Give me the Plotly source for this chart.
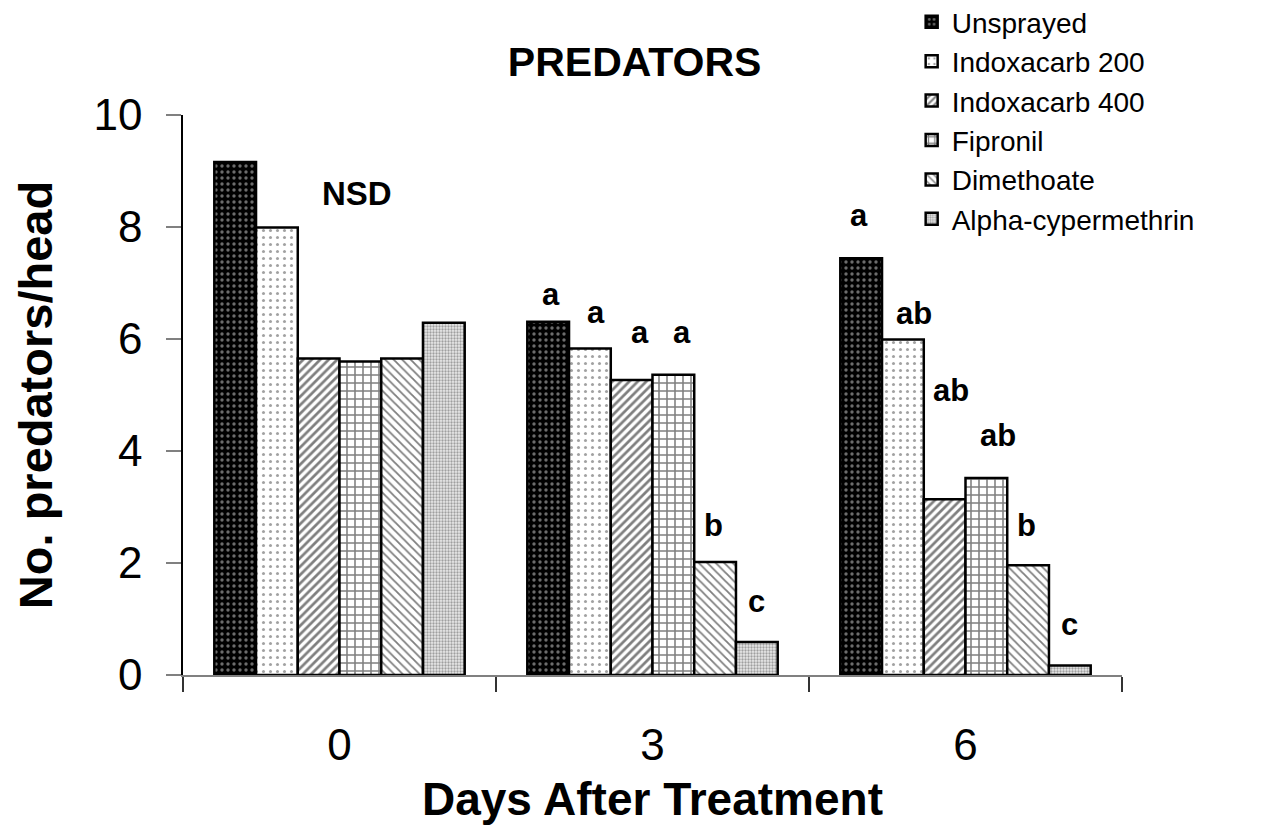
import plotly.graph_objects as go

# ---------------- data ----------------
days = ["0", "3", "6"]
treatments = ["Unsprayed", "Indoxacarb 200", "Indoxacarb 400",
              "Fipronil", "Dimethoate", "Alpha-cypermethrin"]
unsprayed = [9.16, 6.31, 7.44]
indoxacarb_200 = [7.99, 5.83, 5.99]
indoxacarb_400 = [5.65, 5.27, 3.14]
fipronil = [5.60, 5.36, 3.52]
dimethoate = [5.65, 2.02, 1.96]
alpha_cypermethrin = [6.29, 0.59, 0.17]
series = [unsprayed, indoxacarb_200, indoxacarb_400, fipronil, dimethoate, alpha_cypermethrin]

letters_day3 = ["a", "a", "a", "a", "b", "c"]
letters_day6 = ["a", "ab", "ab", "ab", "b", "c"]
nsd_label = "NSD"

# ---------------- styles ----------------
FONT = "Liberation Sans, Arial, sans-serif"
patterns = [
    dict(shape=".", bgcolor="#000000", fgcolor="#d8d8d8", size=6, solidity=0.25),
    dict(shape=".", bgcolor="#ffffff", fgcolor="#444444", size=7, solidity=0.15),
    dict(shape="/", bgcolor="#ffffff", fgcolor="#000000", size=6, solidity=0.45),
    dict(shape="+", bgcolor="#ffffff", fgcolor="#000000", size=8, solidity=0.35),
    dict(shape="\\", bgcolor="#ffffff", fgcolor="#000000", size=6, solidity=0.3),
    dict(shape=".", bgcolor="#e8e8e8", fgcolor="#555555", size=3, solidity=0.45),
]

fig = go.Figure()
for name, vals, pat in zip(treatments, series, patterns):
    fig.add_trace(go.Bar(
        x=days, y=vals, name=name,
        marker=dict(color=pat["bgcolor"], pattern=dict(fillmode="overlay", **pat),
                    line=dict(color="#000000", width=2.5)),
    ))

# label placement (pixel offsets above bar tops)
gap_day3 = [15, 24, 35, 30, 24, 28]
gap_day6 = [30, 14, 96, 30, 27, 28]
xs_day3 = [3, 6, 8, 9, -2, 0]
xs_day6 = [-2, 11, 6, 12, -2, 0]

n = len(treatments)
group_w = 0.8
bar_w = group_w / n

def bar_x(cat_idx, i):
    return cat_idx - group_w / 2 + (i + 0.5) * bar_w

annotations = []
for cat_idx, letters, gaps, xss in [(1, letters_day3, gap_day3, xs_day3),
                                    (2, letters_day6, gap_day6, xs_day6)]:
    for i, lab in enumerate(letters):
        annotations.append(dict(
            x=bar_x(cat_idx, i), y=series[i][cat_idx], xref="x", yref="y",
            text=lab, showarrow=False, yanchor="bottom", xanchor="center",
            yshift=gaps[i] - 7, xshift=xss[i],
            font=dict(family=FONT, size=31, color="#000000", weight="bold"),
        ))
annotations.append(dict(
    x=bar_x(0, 3), y=8.6, xref="x", yref="y", text="<b>" + nsd_label + "</b>",
    showarrow=False, yanchor="middle", xanchor="center", xshift=-3,
    font=dict(family=FONT, size=33, color="#000000"),
))

# the page body adds an 8px offset, so margins are compensated
fig.update_layout(
    width=1274, height=829,
    margin=dict(l=175, r=160, t=107, b=162, autoexpand=False),
    paper_bgcolor="white", plot_bgcolor="white",
    barmode="group", bargap=0.2, bargroupgap=0,
    title=dict(text="<b>PREDATORS</b>", x=0.481, xref="paper", xanchor="center",
               y=1 - 54 / 829, yref="container", yanchor="middle",
               font=dict(family=FONT, size=41, color="#000000")),
    font=dict(family=FONT, color="#000000"),
    legend=dict(x=0.776, y=1.2105, xref="paper", yref="paper",
                xanchor="left", yanchor="top",
                font=dict(family=FONT, size=28, color="#000000"),
                bgcolor="rgba(0,0,0,0)", tracegroupgap=0, itemwidth=30),
    annotations=annotations,
    showlegend=True,
)
fig.update_xaxes(
    type="category", showline=True, linecolor="#808080", linewidth=1.5,
    ticks="outside", tickson="boundaries", ticklen=15, tickcolor="#333333", tickwidth=1.5,
    tickfont=dict(family=FONT, size=44, color="#000000"), ticklabelstandoff=30,
    title=dict(text="<b>Days After Treatment</b>", font=dict(family=FONT, size=46, color="#000000"),
               standoff=15),
    showgrid=False, zeroline=False, automargin=False,
)
fig.update_yaxes(
    range=[0, 10], dtick=2, showline=True, linecolor="#000000", linewidth=1.5,
    ticks="outside", ticklen=15, tickcolor="#808080", tickwidth=1.5,
    tickfont=dict(family=FONT, size=44, color="#000000"), ticklabelstandoff=15,
    title=dict(text="<b>No. predators/head</b>", font=dict(family=FONT, size=47, color="#000000"),
               standoff=26),
    showgrid=False, zeroline=False, automargin=False,
)

fig.write_html("out.html")
